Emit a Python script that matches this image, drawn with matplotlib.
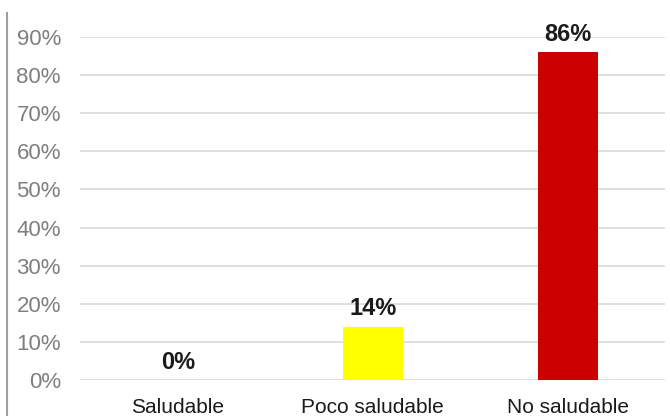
import matplotlib.pyplot as plt
from matplotlib.lines import Line2D
import numpy as np

categories = ['Saludable', 'Poco saludable', 'No saludable']
values = [0.0, 0.14, 0.86]
labels = ['0%', '14%', '86%']
colors = ['#FFFF00', '#FFFF00', '#CC0000']
yticks = [0.0, 0.1, 0.2, 0.3, 0.4, 0.5, 0.6, 0.7, 0.8, 0.9]
ytick_labels = ['0%', '10%', '20%', '30%', '40%', '50%', '60%', '70%', '80%', '90%']

plt.rcParams['font.family'] = ['Liberation Sans', 'DejaVu Sans']

fig = plt.figure(figsize=(6.7, 4.19), dpi=100)
ax = fig.add_axes([0.120, 0.093, 0.873, 0.819])

x = np.arange(len(categories))
ax.bar(x, values, width=0.31, color=colors, zorder=3)

for xi, v, lab in zip(x, values, labels):
    ax.annotate(lab, (xi, v), xytext=(0, 4.5), textcoords='offset points',
                ha='center', va='bottom', fontsize=17, fontweight='bold',
                color='#1a1a1a')

ax.set_xlim(-0.5, 2.5)
ax.set_ylim(0, 0.9)
ax.set_yticks(yticks)
ax.set_yticklabels(ytick_labels)
ax.set_xticks(x)
ax.set_xticklabels(categories)
ax.tick_params(axis='y', length=0, pad=14, labelsize=16, labelcolor='#7f7f7f')
ax.tick_params(axis='x', length=0, pad=13, labelsize=15, labelcolor='#1a1a1a')
ax.grid(axis='y', color='#d9d9d9', linewidth=1.2, zorder=0)
for s in ax.spines.values():
    s.set_visible(False)

# left border of the picture
fig.add_artist(Line2D([0.011, 0.011], [0.01, 0.97], color='#a0a0a0',
                      linewidth=1.5, transform=fig.transFigure))

plt.savefig('out.png', dpi=100)
